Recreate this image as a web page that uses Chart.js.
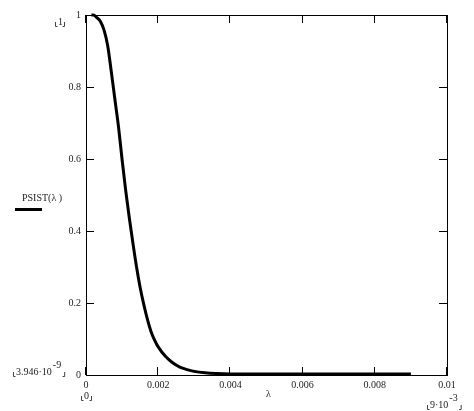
<!DOCTYPE html>
<html><head><meta charset="utf-8">
<script src="https://cdn.jsdelivr.net/npm/chart.js@4"></script>
<style>html,body{margin:0;padding:0;background:#fff}#wrap{width:474px;height:411px;position:relative}</style>
</head><body><div id="wrap"><canvas id="c" width="474" height="411"></canvas></div>
<script>
const lambdaValues = [0.00015, 0.0002, 0.0003, 0.0004, 0.0005, 0.0006, 0.0007, 0.0008, 0.0009, 0.001,
  0.0011, 0.0012, 0.0013, 0.0014, 0.0015, 0.0016, 0.0017, 0.0018, 0.0019, 0.002,
  0.0022, 0.0024, 0.0026, 0.0028, 0.003, 0.0033, 0.0036, 0.004, 0.005, 0.006, 0.007, 0.008, 0.009];
const psistValues = [1.0, 1.0, 0.993, 0.982, 0.958, 0.915, 0.843, 0.766, 0.69, 0.598,
  0.512, 0.436, 0.366, 0.300, 0.243, 0.196, 0.155, 0.121, 0.097, 0.078,
  0.052, 0.034, 0.022, 0.015, 0.01, 0.006, 0.004, 0.003, 0.003, 0.003, 0.003, 0.003, 0.003];
const xTickValues = [0, 0.002, 0.004, 0.006, 0.008, 0.01];
const xTickLabels = ["0", "0.002", "0.004", "0.006", "0.008", "0.01"];
const yTickValues = [0, 0.2, 0.4, 0.6, 0.8, 1];
const yTickLabels = ["0", "0.2", "0.4", "0.6", "0.8", "1"];
const seriesName = "PSIST(\u03BB )";
const xAxisTitle = "\u03BB";
const yUpperLimit = "1";
const yLowerLimit = "3.946\u00B710";
const yLowerExp = "-9";
const xLowerLimit = "0";
const xUpperLimit = "9\u00B710";
const xUpperExp = "-3";

const FONT = "10px 'Liberation Serif', 'Times New Roman', serif";
const TXT = "#222";

function bracketL(ctx, x, y) {
  ctx.beginPath(); ctx.moveTo(x + 0.5, y - 3); ctx.lineTo(x + 0.5, y + 1.5); ctx.lineTo(x + 2.5, y + 1.5); ctx.stroke();
}
function bracketR(ctx, x, y) {
  ctx.beginPath(); ctx.moveTo(x + 0.5, y - 3); ctx.lineTo(x + 0.5, y + 1.5); ctx.lineTo(x - 1.5, y + 1.5); ctx.stroke();
}

const framePlugin = {
  id: 'frame',
  afterDraw(chart) {
    const ctx = chart.ctx, a = chart.chartArea;
    const xs = chart.scales.x, ys = chart.scales.y;
    ctx.save();
    ctx.strokeStyle = '#000'; ctx.lineWidth = 1;
    ctx.strokeRect(Math.round(a.left) + 0.5, Math.round(a.top) + 0.5, Math.round(a.right - a.left), Math.round(a.bottom - a.top));
    const L = 8;
    ctx.beginPath();
    xTickValues.forEach(v => {
      const px = Math.round(xs.getPixelForValue(v)) - 0.5;
      ctx.moveTo(px, a.bottom); ctx.lineTo(px, a.bottom - L);
      ctx.moveTo(px, a.top); ctx.lineTo(px, a.top + L);
    });
    yTickValues.forEach(v => {
      const py = Math.round(ys.getPixelForValue(v)) + 0.5;
      ctx.moveTo(a.left, py); ctx.lineTo(a.left + L, py);
      ctx.moveTo(a.right, py); ctx.lineTo(a.right - L, py);
    });
    ctx.stroke();

    ctx.font = FONT; ctx.fillStyle = TXT; ctx.textBaseline = 'alphabetic'; ctx.textAlign = 'left';
    ctx.strokeStyle = '#444'; ctx.lineWidth = 1;
    ctx.fillText(yUpperLimit, 58, 25); bracketL(ctx, 55, 25); bracketR(ctx, 64, 25);
    ctx.fillText(yLowerLimit, 16, 375);
    const w1 = ctx.measureText(yLowerLimit).width;
    ctx.fillText(yLowerExp, 16 + w1 + 1, 368);
    const w2 = ctx.measureText(yLowerExp).width;
    bracketL(ctx, 13, 375); bracketR(ctx, 16 + w1 + w2 + 4, 375);
    ctx.fillText(xLowerLimit, 84, 399); bracketL(ctx, 81, 399); bracketR(ctx, 91, 399);
    ctx.fillText(xAxisTitle, 266, 397);
    ctx.fillText(xUpperLimit, 430, 408);
    const w3 = ctx.measureText(xUpperLimit).width;
    ctx.fillText(xUpperExp, 430 + w3 + 1, 401);
    const w4 = ctx.measureText(xUpperExp).width;
    bracketL(ctx, 427, 408); bracketR(ctx, 430 + w3 + w4 + 4, 408);
    ctx.fillText(seriesName, 22, 201);
    ctx.strokeStyle = '#000'; ctx.lineWidth = 3;
    ctx.beginPath(); ctx.moveTo(15, 209.5); ctx.lineTo(42, 209.5); ctx.stroke();
    ctx.restore();
  }
};

new Chart(document.getElementById('c'), {
  type: 'scatter',
  data: {
    datasets: [{
      label: seriesName,
      data: lambdaValues.map((x, i) => ({ x: x, y: psistValues[i] })),
      showLine: true,
      borderColor: '#000',
      borderWidth: 3,
      pointRadius: 0,
      cubicInterpolationMode: 'monotone',
      clip: false
    }]
  },
  options: {
    responsive: false,
    animation: false,
    devicePixelRatio: 1,
    layout: { padding: { left: 0, top: 15, right: 27, bottom: 0 } },
    plugins: { legend: { display: false }, tooltip: { enabled: false } },
    scales: {
      x: {
        type: 'linear', min: 0, max: 0.01,
        afterBuildTicks: s => { s.ticks = xTickValues.map(v => ({ value: v })); },
        afterFit: s => { s.height = 36; },
        grid: { display: false, drawTicks: false },
        border: { display: false },
        ticks: {
          padding: 4, color: TXT, maxRotation: 0, autoSkip: false,
          font: { family: "'Liberation Serif', 'Times New Roman', serif", size: 10 },
          callback: (v) => { const i = xTickValues.findIndex(t => Math.abs(t - v) < 1e-9); return i >= 0 ? xTickLabels[i] : ''; }
        }
      },
      y: {
        type: 'linear', min: 0, max: 1,
        afterBuildTicks: s => { s.ticks = yTickValues.map(v => ({ value: v })); },
        afterFit: s => { s.width = 86; },
        grid: { display: false, drawTicks: false },
        border: { display: false },
        ticks: {
          padding: 5, color: TXT, autoSkip: false,
          font: { family: "'Liberation Serif', 'Times New Roman', serif", size: 10 },
          callback: (v) => { const i = yTickValues.findIndex(t => Math.abs(t - v) < 1e-9); return i >= 0 ? yTickLabels[i] : ''; }
        }
      }
    }
  },
  plugins: [framePlugin]
});
</script></body></html>
